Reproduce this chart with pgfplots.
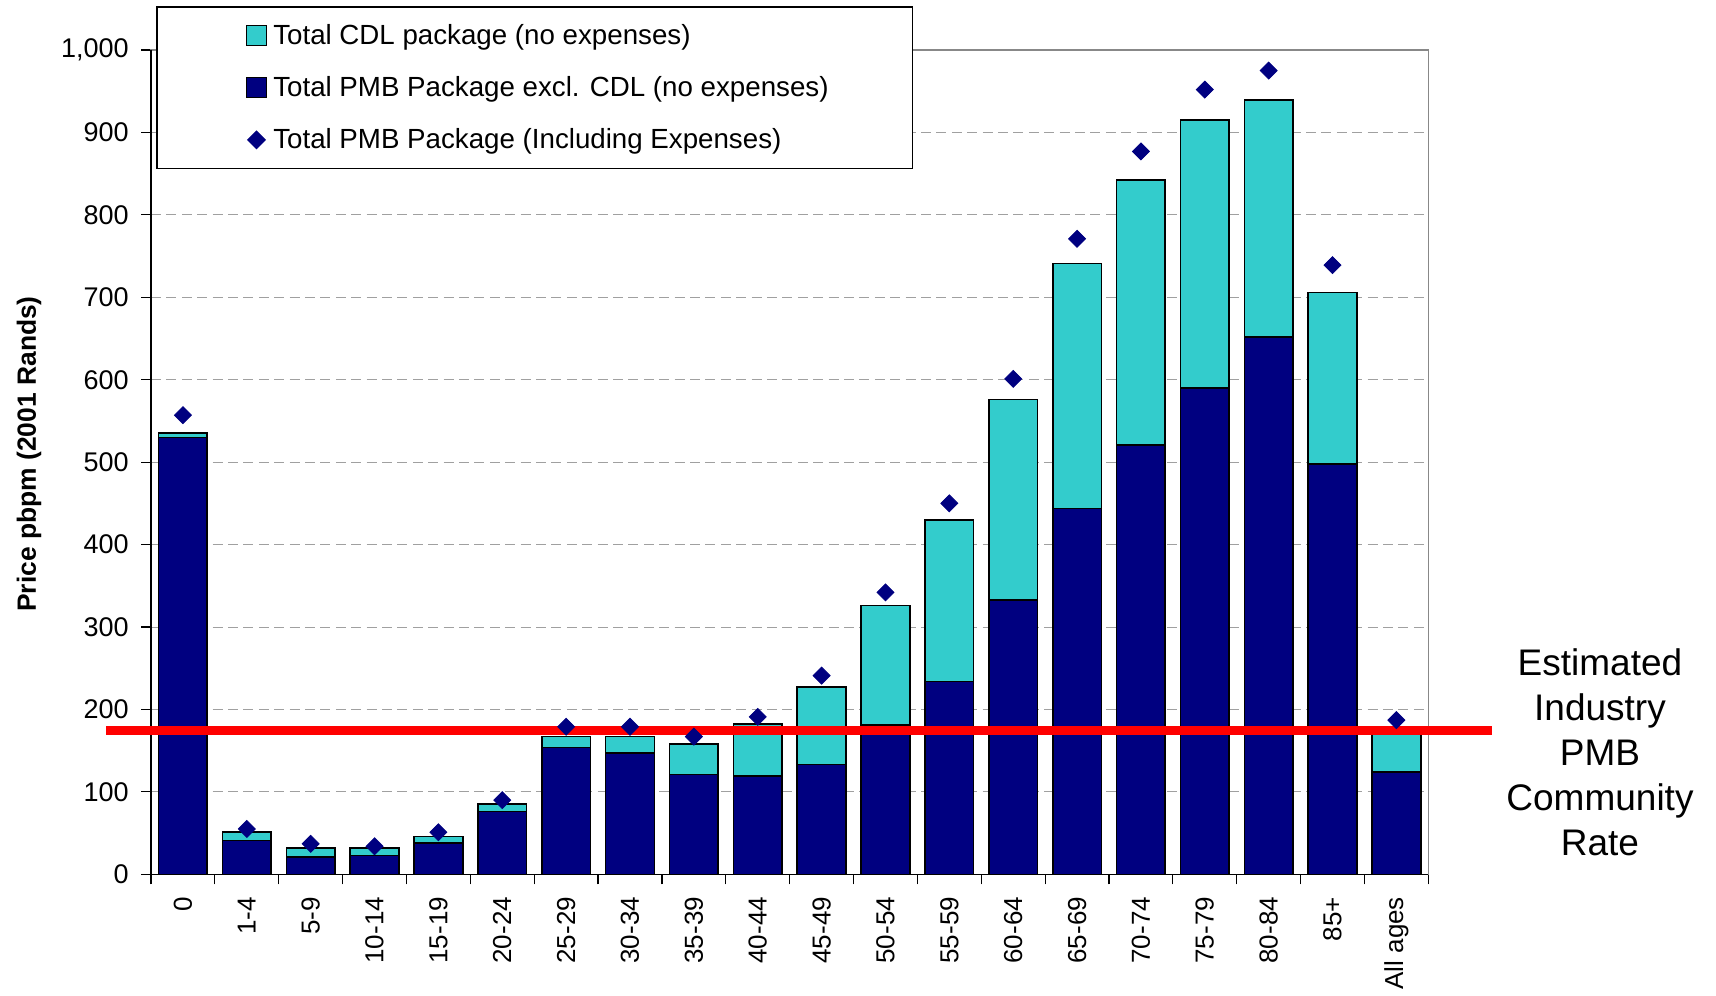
\documentclass[border=0pt]{standalone}
\usepackage{pgfplots}
\usepackage{pgfplotstable}
\pgfplotsset{compat=1.18}
\usepackage{fontspec}
\setmainfont{Liberation Sans}
\definecolor{cdl}{RGB}{51,204,204}
\definecolor{pmb}{RGB}{0,0,128}
\definecolor{gridc}{RGB}{160,160,160}

\pgfplotstableread{
x dark cdl exp
0 530 5 557
1 41 10 55
2 21 11 37
3 23 9 34
4 38 8 51
5 76 9 90
6 154 13 179
7 147 20 179
8 121 37 167
9 119 63 191
10 133 94 241
11 181 145 342
12 234 196 450
13 333 243 601
14 444 297 771
15 521 321 877
16 590 325 952
17 652 287 975
18 498 208 739
19 124 46 187
}\data

\begin{document}
\begin{tikzpicture}
\begin{axis}[
  at={(0,0)}, anchor=south west,
  scale only axis, width=638.65pt, height=412.15pt,
  xmin=-0.5, xmax=19.5, ymin=0, ymax=1000,
  ybar stacked, bar width=24.35pt,
  axis line style={gridc!85!black, line width=0.6pt},
  tick style={black, line width=0.6pt},
  tick align=outside, tick pos=left, major tick length=5pt,
  xtick={-0.5,0.5,...,19.5},
  x tick label as interval,
  xticklabels={0,1-4,5-9,10-14,15-19,20-24,25-29,30-34,35-39,40-44,45-49,50-54,55-59,60-64,65-69,70-74,75-79,80-84,85+,All ages},
  xticklabel style={yshift=-2.8pt, rotate=90, anchor=east, font=\fontsize{13}{15}\selectfont},
  ytick={0,100,...,1000},
  scaled y ticks=false,
  yticklabel style={xshift=-2.6pt, font=\fontsize{13.5}{15}\selectfont, /pgf/number format/.cd, 1000 sep={,}, assume math mode=true},
  ymajorgrids,
  major grid style={gridc, dash pattern=on 5pt off 2.7pt, line width=0.5pt},
  ylabel={Price pbpm (2001 Rands)},
  ylabel style={at={(axis description cs:-0.0955,0.51)}, anchor=center, font=\bfseries\fontsize{13.2}{15}\selectfont},
  reverse legend,
  legend cell align=left,
  legend style={at={(rel axis cs:0.00415,1.053)}, anchor=north west, draw=black, fill=white, line width=0.6pt,
    font=\fontsize{13.85}{16.6}\selectfont, inner xsep=40pt, inner ysep=6.65pt, row sep=10.5pt},
]
\addlegendimage{legend image code/.code={\path (-4.4pt,0pt) (11pt,0pt);
  \fill[pmb] (5pt,4.35pt) -- (9.35pt,0pt) -- (5pt,-4.35pt) -- (0.65pt,0pt) -- cycle;}}
\addlegendentry{Total PMB Package (Including Expenses)}
\addplot[fill=pmb, draw=black, line width=0.8pt,
  legend image code/.code={\path (-4.4pt,0pt) (11pt,0pt);
  \draw[fill=pmb, draw=black, line width=0.6pt] (0pt,-5pt) rectangle (10pt,5pt);}]
  table[x=x, y=dark]{\data};
\addlegendentry{Total PMB Package excl. CDL (no expenses)}
\addplot[fill=cdl, draw=black, line width=0.8pt,
  legend image code/.code={\path (-4.4pt,0pt) (11pt,0pt);
  \draw[fill=cdl, draw=black, line width=0.6pt] (0pt,-5pt) rectangle (10pt,5pt);}]
  table[x=x, y=cdl]{\data};
\addlegendentry{Total CDL package (no expenses)}
\end{axis}
\begin{axis}[
  at={(0,0)}, anchor=south west,
  scale only axis, width=638.65pt, height=412.15pt,
  xmin=-0.5, xmax=19.5, ymin=0, ymax=1000,
  hide axis, clip=false,
]
\addplot[only marks, mark=square*, mark size=3pt, color=pmb, mark options={rotate=45, fill=pmb, draw=pmb}]
  table[x=x, y=exp]{\data};
\addplot[black, line width=0.8pt] coordinates {(-0.5,1000) (-0.5,0) (19.5,0)};
\addplot[red, line width=4.5pt] coordinates {(-1.2046,174) (20.493,174)};
\node[align=center, font=\fontsize{18.5}{22.5}\selectfont] at (rel axis cs:1.1344,0.1485)
  {Estimated\\Industry\\PMB\\Community\\Rate};
\end{axis}
\pgfresetboundingbox
\path[use as bounding box] (-75.5pt,-60.35pt) rectangle (782.5pt,437.15pt);
\end{tikzpicture}
\end{document}
